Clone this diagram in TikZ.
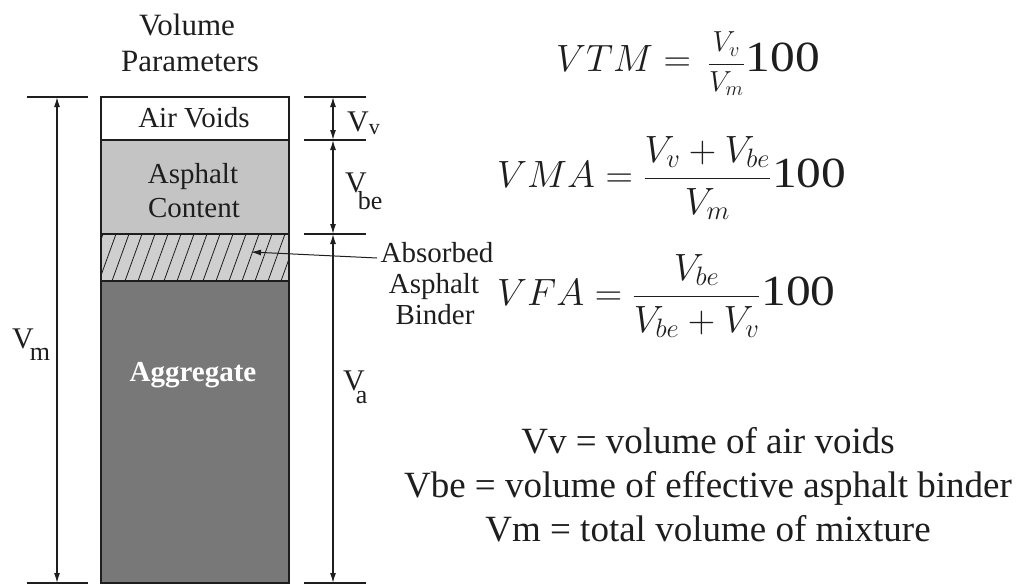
\RequirePackage{fix-cm}
\documentclass[tikz,border=0pt]{standalone}
\usepackage{graphicx}
\usepackage{fontspec}
\setmainfont{Liberation Serif}
\usetikzlibrary{arrows.meta}
\definecolor{asph}{HTML}{C4C4C4}
\definecolor{hatchbg}{HTML}{CFCFCF}
\definecolor{aggr}{HTML}{787878}
\definecolor{ink}{HTML}{1E1E1E}
\newcommand{\hundred}{\scalebox{1.15}[1]{\fontsize{43}{48}\selectfont 100}}
\newcommand{\subfs}{\fontsize{26}{30}\selectfont}
\begin{document}
\begin{tikzpicture}[x=1pt,y=-1pt,
  dim/.style={line width=1.3pt,draw=ink,{Latex[length=10pt,width=6pt]}-{Latex[length=10pt,width=6pt]}},
  tickline/.style={line width=1.5pt,draw=ink},
  layer/.style={line width=1.8pt,draw=ink},
  lbl/.style={font=\fontsize{29}{33}\selectfont,inner sep=0pt,anchor=base,text=ink},
  ttl/.style={font=\fontsize{31}{36}\selectfont,inner sep=0pt,anchor=base,text=ink},
  dimlbl/.style={font=\fontsize{30}{34}\selectfont,inner sep=0pt,anchor=base west,text=ink},
  eq/.style={font=\fontsize{38}{44}\selectfont,inner sep=0pt,anchor=west,text=ink},
  note/.style={font=\fontsize{37}{44}\selectfont,inner sep=0pt,anchor=base,text=ink}
]
\useasboundingbox (0,0) rectangle (1019,587);

% title
\node[ttl] (t1) at (187,35) {Volume};
\node[ttl] (t2) at (190,71) {Parameters};

% layers
\fill[white] (101,97) rectangle (289,140);
\fill[asph] (101,140) rectangle (289,234);
\fill[hatchbg] (101,234) rectangle (289,281);
\fill[aggr] (101,281) rectangle (289,583);
\begin{scope}
  \clip (101,234) rectangle (289,281);
  \foreach \x in {60,73,...,300} {
    \draw[line width=0.8pt,draw=ink] (\x,281) -- (\x+17,234);
  }
\end{scope}
\draw[layer] (101,140) -- (289,140);
\draw[layer] (101,234) -- (289,234);
\draw[layer] (101,281) -- (289,281);
\draw[layer] (101,97) rectangle (289,583);

% layer labels
\node[lbl] (air) at (194,127) {Air Voids};
\node[lbl] (ac1) at (193,183) {Asphalt};
\node[lbl] (ac2) at (194,217) {Content};
\node[lbl,text=white,font=\fontsize{29}{33}\selectfont\bfseries] (agg) at (193,381) {Aggregate};

% left dimension
\coordinate (lt) at (57,97);
\coordinate (lb) at (57,583);
\draw[tickline] (27,97) -- (88,97);
\draw[tickline] (27,583) -- (88,583);
\draw[dim] (lt) -- (lb);
\node[dimlbl] (vm) at (12,348) {V\kern-4pt\raisebox{-12pt}{\subfs m}};

% right dimensions
\coordinate (r0) at (333,97);
\coordinate (r1) at (333,140);
\coordinate (r2) at (333,234);
\coordinate (r3) at (333,583);
\draw[tickline] (304,97) -- (366,97);
\draw[tickline] (304,140) -- (366,140);
\draw[tickline] (304,234) -- (366,234);
\draw[tickline] (304,583) -- (366,583);
\draw[dim] (r0) -- (r1);
\draw[dim] (r1) -- (r2);
\draw[dim] (r2) -- (r3);
\node[dimlbl] (vv) at (347,131) {V\raisebox{-3pt}{\fontsize{22}{26}\selectfont v}};
\node[dimlbl] (vbe) at (345,192) {V\kern-9pt\raisebox{-17pt}{\subfs be}};
\node[dimlbl] (va) at (343,390) {V\kern-9pt\raisebox{-13pt}{\subfs a}};

% absorbed binder
\node[lbl] (ab1) at (437,262) {Absorbed};
\node[lbl] (ab2) at (434,293) {Asphalt};
\node[lbl] (ab3) at (435,324) {Binder};
\coordinate (abs) at (377,258);
\coordinate (abt) at (251,252);
\draw[line width=1pt,draw=ink,-{Latex[length=10pt,width=6pt]}] (abs) -- (abt);

% equations
\node[eq] (e1) at (556,64) {$VTM = {}$\,{\fontsize{29}{34}\selectfont$\displaystyle\frac{V_v}{V_m}$}\kern1pt\hundred};
\node[eq] (e2) at (497,178) {$\displaystyle VMA = \frac{V_v + V_{be}}{V_m}$\kern1pt\hundred};
\node[eq] (e3) at (497,296) {$\displaystyle VFA = \frac{V_{be}}{V_{be} + V_v}$\kern1pt\hundred};

% notes
\node[note] (n1) at (708,453) {Vv = volume of air voids};
\node[note] (n2) at (708,497) {Vbe = volume of effective asphalt binder};
\node[note] (n3) at (708,541) {Vm = total volume of mixture};
\end{tikzpicture}
\end{document}
